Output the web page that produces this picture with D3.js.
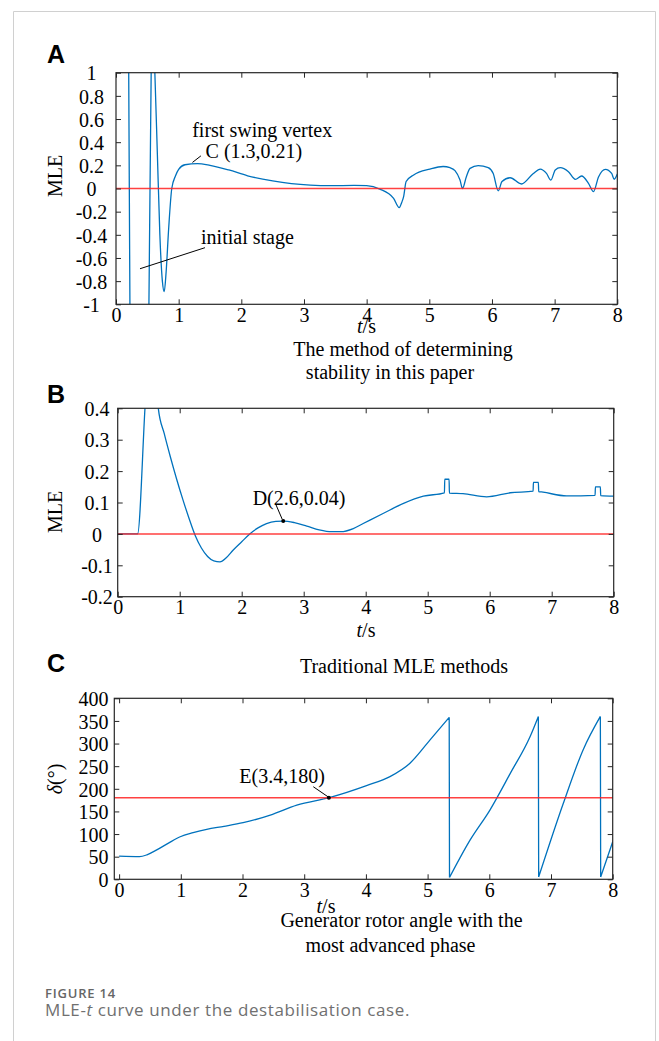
<!DOCTYPE html>
<html>
<head>
<meta charset="utf-8">
<script src="https://cdn.jsdelivr.net/npm/d3@7"></script>
<style>
  body { margin: 0; background: #fff; }
</style>
</head>
<body>
<div id="fig"></div>
<script>
"use strict";

// ---- data ----
const xTicks = [0, 1, 2, 3, 4, 5, 6, 7, 8];

// A: MLE, method of this paper (values beyond +-1 are clipped)
const tA   = [0, 0.2, 0.225, 0.5, 0.52, 0.565, 0.58, 0.62, 0.66, 0.7, 0.74, 0.77, 0.8, 0.84, 0.89, 0.95, 1.0, 1.1, 1.3, 1.5, 1.8, 2.1, 2.5, 2.8, 3.1, 3.42, 3.8, 4.0, 4.21, 4.43, 4.52, 4.56, 4.59, 4.63, 4.75, 5.01, 5.22, 5.33, 5.41, 5.49, 5.53, 5.59, 5.65, 5.78, 5.94, 6.02, 6.10, 6.16, 6.29, 6.47, 6.66, 6.77, 6.87, 6.94, 7.01, 7.09, 7.22, 7.33, 7.43, 7.54, 7.62, 7.70, 7.81, 7.91, 7.95, 8.0];
const mleA = [2, 1.3, -1.3, -2, -1.3, 1.2, 1.6, 1.0, 0.3, -0.4, -0.8, -0.89, -0.72, -0.35, 0, 0.11, 0.165, 0.205, 0.215, 0.2, 0.16, 0.11, 0.065, 0.042, 0.029, 0.024, 0.027, 0.024, -0.005, -0.085, -0.165, -0.12, -0.07, 0.06, 0.117, 0.168, 0.19, 0.18, 0.154, 0.073, 0.0, 0.10, 0.174, 0.197, 0.18, 0.13, -0.02, 0.06, 0.093, 0.039, 0.13, 0.168, 0.13, 0.073, 0.16, 0.18, 0.145, 0.079, 0.108, 0.045, -0.027, 0.10, 0.166, 0.13, 0.08, 0.125];
const yTicksA = [-1, -0.8, -0.6, -0.4, -0.2, 0, 0.2, 0.4, 0.6, 0.8, 1];

// B: traditional MLE
const tB   = [0, 0.32, 0.44, 0.5, 0.6, 0.655, 0.75, 0.85, 0.95, 1.05, 1.15, 1.25, 1.35, 1.45, 1.55, 1.65, 1.75, 1.86, 2.0, 2.13, 2.27, 2.40, 2.55, 2.67, 2.85, 3.05, 3.25, 3.45, 3.6, 3.8, 3.96, 4.28, 4.61, 4.93, 5.27, 5.275, 5.345, 5.35, 5.57, 5.95, 6.33, 6.70, 6.705, 6.785, 6.79, 6.86, 7.24, 7.70, 7.705, 7.785, 7.79, 8.0];
const mleB = [0, 0, 0.4, 0.6, 0.6, 0.4, 0.32, 0.245, 0.175, 0.11, 0.05, -0.005, -0.045, -0.072, -0.086, -0.089, -0.076, -0.052, -0.025, 0, 0.02, 0.033, 0.04, 0.041, 0.036, 0.025, 0.013, 0.007, 0.007, 0.017, 0.033, 0.065, 0.097, 0.12, 0.131, 0.174, 0.174, 0.13, 0.128, 0.118, 0.131, 0.136, 0.164, 0.164, 0.135, 0.133, 0.121, 0.123, 0.15, 0.15, 0.122, 0.12];
const yTicksB = [-0.2, -0.1, 0, 0.1, 0.2, 0.3, 0.4];

// C: rotor angle of the most advanced generator
const tC     = [0, 0.33, 0.45, 0.61, 0.8, 0.99, 1.2, 1.42, 1.7, 2.01, 2.45, 2.88, 3.42, 4.01, 4.39, 4.71, 5.04, 5.35, 5.355, 5.69, 6.01, 6.34, 6.66, 6.795, 6.80, 7.2, 7.52, 7.80, 7.805, 8.0];
const deltaC = [51, 50, 54, 65, 80, 94, 103, 110.5, 117, 125, 142, 164, 181, 207, 227, 256, 308, 358, 4, 87, 153, 234, 315, 360, 5, 168, 286, 360, 5, 83];
const yTicksC = [0, 50, 100, 150, 200, 250, 300, 350, 400];

// ---- drawing ----
const W = 659, H = 1041;
const serif = '"Liberation Serif", "Times New Roman", serif';
const svg = d3.select('#fig').append('svg').attr('width', W).attr('height', H)
              .attr('font-family', serif);
svg.append('rect').attr('width', W).attr('height', H).attr('fill', '#fff');
svg.append('path').attr('d', `M13.5,${H} V11.5 H655.5 V${H}`)
   .attr('fill', 'none').attr('stroke', '#d0d0d0').attr('stroke-width', 1);

const axisColor = '#262626';
const blue = '#0072BD';
const red = '#ff2020';

function panel(o, idx) {
    const x = d3.scaleLinear().domain(o.xDomain).range([o.left, o.right]);
    const y = d3.scaleLinear().domain(o.yDomain).range([o.bottom, o.top]);
    const g = svg.append('g');

    g.append('clipPath').attr('id', 'clip' + idx)
     .append('rect').attr('x', o.left).attr('y', o.top)
     .attr('width', o.right - o.left).attr('height', o.bottom - o.top);

    // split the series at wrap-around jumps, smooth each piece, join with straight drops
    const pts = d3.zip(o.t, o.v);
    const segs = [[pts[0]]];
    for (let i = 1; i < pts.length; i++) {
        if (Math.abs(pts[i][1] - pts[i - 1][1]) > o.jump) segs.push([pts[i]]);
        else segs[segs.length - 1].push(pts[i]);
    }
    const line = d3.line().x(d => x(d[0])).y(d => y(d[1])).curve(d3.curveMonotoneX);
    let dStr = segs.map(s => line(s)).join('');
    for (let k = 1; k < segs.length; k++) {
        const a = segs[k - 1][segs[k - 1].length - 1], b = segs[k][0];
        dStr += `M${x(a[0])},${y(a[1])}L${x(b[0])},${y(b[1])}`;
    }
    g.append('path')
     .attr('clip-path', `url(#clip${idx})`)
     .attr('d', dStr).attr('fill', 'none')
     .attr('stroke', blue).attr('stroke-width', 1.3);

    // reference line
    g.append('line')
     .attr('x1', o.left).attr('x2', o.right)
     .attr('y1', y(o.ref)).attr('y2', y(o.ref))
     .attr('stroke', red).attr('stroke-width', 1.5).attr('opacity', 0.85);

    // box + inward ticks on all sides
    const bottom = g.append('g').attr('transform', `translate(0,${o.bottom})`)
        .call(d3.axisBottom(x).tickValues(xTicks).tickSizeInner(-5).tickSizeOuter(0).tickPadding(3));
    const top = g.append('g').attr('transform', `translate(0,${o.top})`)
        .call(d3.axisTop(x).tickValues(xTicks).tickSizeInner(-5).tickSizeOuter(0).tickFormat(''));
    const left = g.append('g').attr('transform', `translate(${o.left},0)`)
        .call(d3.axisLeft(y).tickValues(o.yTicks).tickSizeInner(-5).tickSizeOuter(0).tickFormat(d3.format('')));
    const right = g.append('g').attr('transform', `translate(${o.right},0)`)
        .call(d3.axisRight(y).tickValues(o.yTicks).tickSizeInner(-5).tickSizeOuter(0).tickFormat(''));
    [bottom, top, left, right].forEach(a => {
        a.attr('font-family', serif).attr('font-size', 20);
        a.select('.domain').remove();
        a.selectAll('line').attr('stroke', axisColor);
        a.selectAll('text').attr('fill', '#000');
    });
    left.selectAll('text')
        .attr('x', o.yLabelX - o.left).attr('text-anchor', o.yAnchor).attr('dy', '0.36em')
        .text(d => d3.format('')(d).replace('−', '-'));

    g.append('rect').attr('x', o.left).attr('y', o.top)
     .attr('width', o.right - o.left).attr('height', o.bottom - o.top)
     .attr('fill', 'none').attr('stroke', axisColor).attr('stroke-width', 1.2);

    // axis titles
    g.append('text').attr('transform', `translate(${o.yTitleX},${o.yTitleY}) rotate(-90)`)
     .attr('text-anchor', 'middle').attr('font-size', 20).html(o.yTitle);
    g.append('text').attr('x', o.xTitleX).attr('y', o.xTitleY)
     .attr('text-anchor', 'middle').attr('font-size', 20)
     .html('<tspan font-style="italic">t</tspan>/s');

    // panel letter
    g.append('text').attr('x', 47).attr('y', o.letterY)
     .attr('font-family', '"Liberation Sans", Arial, sans-serif')
     .attr('font-weight', 'bold').attr('font-size', 25).text(o.letter);

    // caption lines under/over the panel
    o.notes.forEach(n => {
        g.append('text').attr('x', n.x).attr('y', n.y)
         .attr('text-anchor', 'middle').attr('font-size', 20).text(n.text);
    });

    return { x, y, g };
}

const A = panel({
    letter: 'A', letterY: 63,
    left: 116, right: 617.3, top: 72.7, bottom: 304.3,
    xDomain: [0, 8], yDomain: [-1, 1], yTicks: yTicksA,
    t: tA, v: mleA, ref: 0, jump: Infinity,
    yLabelX: 91.5, yAnchor: 'middle',
    yTitle: 'MLE', yTitleX: 61.5, yTitleY: 176,
    xTitleX: 366.5, xTitleY: 333,
    notes: [
        { text: 'The method of determining', x: 403, y: 356 },
        { text: 'stability in this paper', x: 390, y: 379 }
    ]
}, 0);

const B = panel({
    letter: 'B', letterY: 403,
    left: 117.7, right: 613.7, top: 408.3, bottom: 596.7,
    xDomain: [0, 8], yDomain: [-0.2, 0.4], yTicks: yTicksB,
    t: tB, v: mleB, ref: 0, jump: Infinity,
    yLabelX: 97, yAnchor: 'middle',
    yTitle: 'MLE', yTitleX: 62, yTitleY: 512,
    xTitleX: 366, xTitleY: 637,
    notes: [
        { text: 'Traditional MLE methods', x: 404, y: 673 }
    ]
}, 1);

const C = panel({
    letter: 'C', letterY: 671.5,
    left: 114.3, right: 612.7, top: 698.3, bottom: 879.3,
    xDomain: [-0.078, 8], yDomain: [0, 400], yTicks: yTicksC,
    t: tC, v: deltaC, ref: 180, jump: 200,
    yLabelX: 108.5, yAnchor: 'end',
    yTitle: '<tspan font-style="italic">δ</tspan>(°)', yTitleX: 62, yTitleY: 779,
    xTitleX: 326, xTitleY: 913,
    notes: [
        { text: 'Generator rotor angle with the', x: 401.5, y: 927 },
        { text: 'most advanced phase', x: 390.5, y: 951.5 }
    ]
}, 2);

// ---- annotations (data coordinates) ----
function leader(p, a, b) {
    p.g.append('line')
     .attr('x1', p.x(a[0])).attr('y1', p.y(a[1]))
     .attr('x2', p.x(b[0])).attr('y2', p.y(b[1]))
     .attr('stroke', '#000').attr('stroke-width', 1);
}
function label(p, at, text) {
    p.g.append('text').attr('x', p.x(at[0])).attr('y', p.y(at[1]))
     .attr('font-size', 20).text(text);
}
function dot(p, at) {
    p.g.append('circle').attr('cx', p.x(at[0])).attr('cy', p.y(at[1]))
     .attr('r', 2).attr('fill', '#000');
}

label(A, [1.216, 0.447], 'first swing vertex');
label(A, [1.43, 0.26], 'C (1.3,0.21)');
leader(A, [1.22, 0.225], [1.355, 0.282]);
label(A, [1.357, -0.482], 'initial stage');
leader(A, [0.383, -0.693], [1.42, -0.511]);

label(B, [2.177, 0.0917], 'D(2.6,0.04)');
leader(B, [2.548, 0.095], [2.655, 0.046]);
dot(B, [2.67, 0.041]);

label(C, [1.948, 213.5], 'E(3.4,180)');
leader(C, [3.147, 204.6], [3.4, 181]);
dot(C, [3.4, 180]);

// ---- figure caption ----
const sans = '"Open Sans", "Noto Sans", sans-serif';
svg.append('text').attr('x', 45).attr('y', 997.5)
   .attr('font-family', sans)
   .attr('font-weight', 600).attr('font-size', 13).attr('fill', '#666')
   .attr('letter-spacing', 0.8).text('FIGURE 14');
svg.append('text').attr('x', 45).attr('y', 1015.5)
   .attr('font-family', sans)
   .attr('font-size', 17).attr('fill', '#707070')
   .attr('letter-spacing', 0.6)
   .html('MLE-<tspan font-style="italic">t</tspan> curve under the destabilisation case.');
</script>
</body>
</html>
